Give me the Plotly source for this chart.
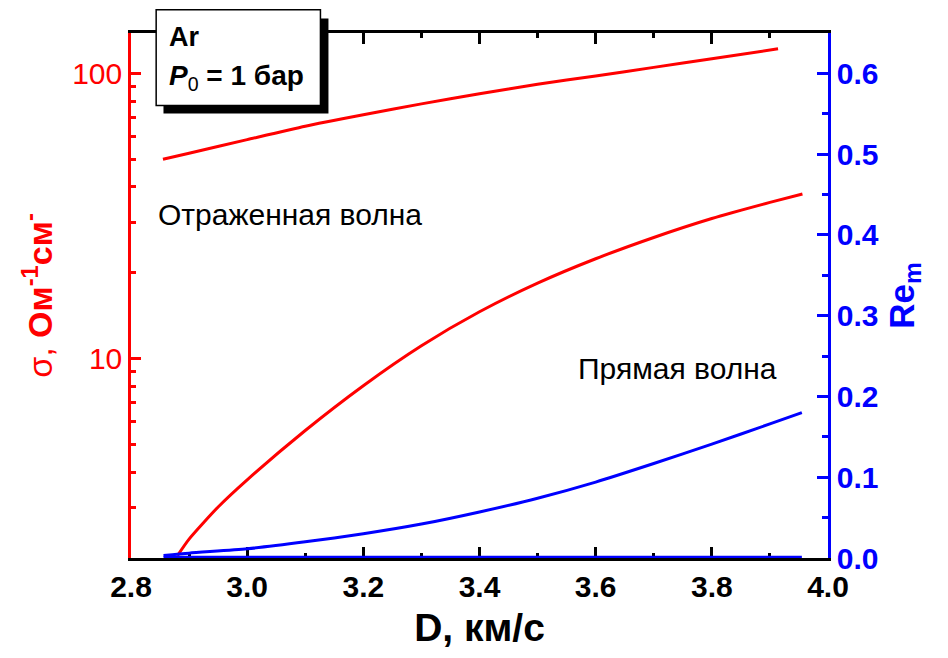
import math
import plotly.graph_objects as go

# Detonation velocity D, km/s, and conductivity sigma (Ohm^-1 cm^-1) behind the reflected wave
d_reflected = [2.855, 2.9, 3.0, 3.1, 3.2, 3.3, 3.4, 3.5, 3.6, 3.7, 3.8, 3.914]
sigma_reflected = [50.0, 52.5, 58.6, 65.3, 71.6, 78.2, 84.9, 91.6, 98.0, 105.0, 112.5, 122.0]

# Conductivity behind the incident (direct) wave
d_direct = [2.88, 2.9, 2.95, 3.0, 3.1, 3.2, 3.3, 3.4, 3.5, 3.6, 3.7, 3.8, 3.9, 3.956]
sigma_direct = [2.04, 2.33, 3.02, 3.76, 5.60, 8.04, 11.1, 14.6, 18.4, 22.4, 26.6, 31.0, 35.3, 37.8]

# Magnetic Reynolds number Re_m
d_rem = [2.856, 2.9, 3.0, 3.1, 3.2, 3.3, 3.4, 3.5, 3.6, 3.7, 3.8, 3.9, 3.955]
rem_upper = [0.003, 0.006, 0.0114, 0.020, 0.030, 0.042, 0.057, 0.074, 0.094, 0.117, 0.141, 0.166, 0.180]
d_rem_low = [2.856, 3.2, 3.6, 3.955]
rem_lower = [0.001, 0.001, 0.001, 0.001]

x_ticks = [2.8, 3.0, 3.2, 3.4, 3.6, 3.8, 4.0]
sigma_ticks = [10, 100]
sigma_minor = [2, 3, 4, 5, 6, 7, 8, 9, 20, 30, 40, 50, 60, 70, 80, 90]
rem_ticks = [0.0, 0.1, 0.2, 0.3, 0.4, 0.5, 0.6]

RED = "#ff0000"
BLUE = "#0000ff"
FONT = "Liberation Sans, Arial, sans-serif"

fig = go.Figure()
fig.add_trace(go.Scatter(x=d_reflected, y=sigma_reflected, mode="lines",
                         line=dict(color=RED, width=3, shape="spline", smoothing=0.6), yaxis="y"))
fig.add_trace(go.Scatter(x=d_direct, y=sigma_direct, mode="lines",
                         line=dict(color=RED, width=3, shape="spline", smoothing=0.6), yaxis="y"))
fig.add_trace(go.Scatter(x=d_rem, y=rem_upper, mode="lines",
                         line=dict(color=BLUE, width=3, shape="spline", smoothing=0.6), yaxis="y2"))
fig.add_trace(go.Scatter(x=d_rem_low, y=rem_lower, mode="lines",
                         line=dict(color=BLUE, width=3), yaxis="y2"))

fig.update_layout(
    width=948, height=658,
    margin=dict(l=130.5, r=120.3, t=32.5, b=100),
    paper_bgcolor="white", plot_bgcolor="white",
    showlegend=False,
    font=dict(family=FONT),
    xaxis=dict(
        range=[2.8, 4.0], tickvals=x_ticks, tickformat=".1f",
        ticks="inside", ticklen=11, tickwidth=2.5, tickcolor="black",
        minor=dict(dtick=0.1, tick0=2.8, ticks="inside", ticklen=5, tickwidth=2.5, tickcolor="black"),
        showline=True, linewidth=2.5, linecolor="black", mirror="ticks",
        showgrid=False, zeroline=False, layer="below traces",
        tickfont=dict(size=30, color="black", family=FONT, weight="bold"),
        title=dict(text="<b>D, км/с</b>", font=dict(size=39, color="black", family=FONT), standoff=12),
    ),
    yaxis=dict(
        type="log", range=[math.log10(2), math.log10(138.6)],
        tickvals=sigma_ticks, ticktext=["10", "100"],
        ticks="inside", ticklen=10, tickwidth=2.5, tickcolor=RED,
        minor=dict(tickvals=sigma_minor, ticks="inside", ticklen=5, tickwidth=2.5, tickcolor=RED),
        showline=True, linewidth=2.5, linecolor=RED,
        showgrid=False, zeroline=False,
        tickfont=dict(size=30, color=RED, family=FONT),
        title=dict(text="σ, <b>Ом<sup>-1</sup>см<sup>-</sup></b>",
                   font=dict(size=34, color=RED, family=FONT), standoff=10),
    ),
    yaxis2=dict(
        overlaying="y", side="right", anchor="x",
        range=[0, 0.65], tickvals=rem_ticks, tickformat=".1f",
        ticks="inside", ticklen=11, tickwidth=2.5, tickcolor=BLUE,
        minor=dict(dtick=0.05, tick0=0, ticks="inside", ticklen=6, tickwidth=2.5, tickcolor=BLUE),
        showline=True, linewidth=2.5, linecolor=BLUE,
        showgrid=False, zeroline=False,
        tickfont=dict(size=30, color=BLUE, family=FONT, weight="bold"),
        title=dict(text="<b>Re<sub>m</sub></b>", font=dict(size=35, color=BLUE, family=FONT), standoff=12),
    ),
)

# Legend box with drop shadow
fig.add_shape(type="rect", xref="paper", yref="paper",
              x0=0.0466, x1=0.2833, y0=0.8468, y1=1.0276,
              fillcolor="black", line=dict(width=0), layer="above")
fig.add_shape(type="rect", xref="paper", yref="paper",
              x0=0.0361, x1=0.2718, y0=0.862, y1=1.0443,
              fillcolor="white", line=dict(color="black", width=1.5), layer="above")

fig.add_annotation(xref="paper", yref="paper", x=0.052, y=(558 - 37) / 525.5,
                   xanchor="left", yanchor="middle", showarrow=False,
                   text="<b>Ar</b>", font=dict(size=27, color="black", family=FONT))
fig.add_annotation(xref="paper", yref="paper", x=0.052, y=(558 - 77) / 525.5,
                   xanchor="left", yanchor="middle", showarrow=False,
                   text="<b><i>P</i></b><sub>0</sub><b> = 1 бар</b>",
                   font=dict(size=28, color="black", family=FONT))

# Curve labels
fig.add_annotation(xref="paper", yref="paper", x=(156 - 130.5) / 697.2, y=(558 - 214) / 525.5,
                   xanchor="left", yanchor="middle", showarrow=False,
                   text="Отраженная волна", font=dict(size=30, color="black", family=FONT))
fig.add_annotation(xref="paper", yref="paper", x=(576 - 130.5) / 697.2, y=(558 - 368) / 525.5,
                   xanchor="left", yanchor="middle", showarrow=False,
                   text="Прямая волна", font=dict(size=30, color="black", family=FONT))

fig.write_html("out.html")
